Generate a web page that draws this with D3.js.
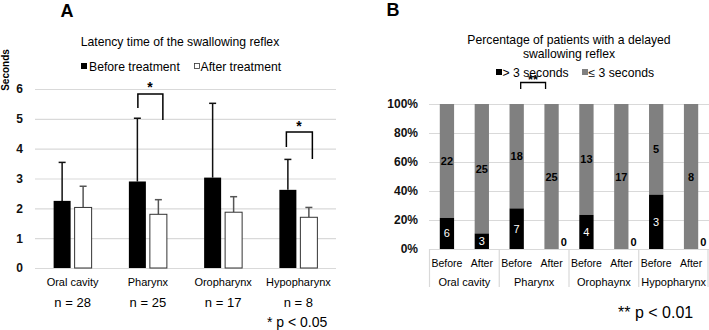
<!DOCTYPE html>
<html>
<head>
<meta charset="utf-8">
<script src="https://cdn.jsdelivr.net/npm/d3@7"></script>
<style>
  body { margin: 0; background: #fff; }
  svg { font-family: "Liberation Sans", Arial, sans-serif; }
</style>
</head>
<body>
<svg id="chart" width="709" height="330"></svg>
<script>
// Panel A data: latency time (seconds)
const sitesA = ['Oral cavity', 'Pharynx', 'Oropharynx', 'Hypopharynx'];
const nLabels = ['n = 28', 'n = 25', 'n = 17', 'n = 8'];
const beforeMean = [2.25, 2.9, 3.03, 2.62];
const beforeErr = [1.29, 2.12, 2.49, 1.02];
const afterMean = [2.03, 1.8, 1.87, 1.7];
const afterErr = [0.71, 0.49, 0.52, 0.33];
const ticksA = [0, 1, 2, 3, 4, 5, 6];

// Panel B data: patient counts
const sitesB = ['Oral cavity', 'Pharynx', 'Orophaynx', 'Hypopharynx'];
const phases = ['Before', 'After'];
const delayed = [6, 3, 7, 0, 4, 0, 3, 0];     // > 3 seconds
const normal = [22, 25, 18, 25, 13, 17, 5, 8]; // <= 3 seconds
const ticksB = [0, 20, 40, 60, 80, 100];

const svg = d3.select('#chart');
const grid = '#d9d9d9';
const fs = '12.2px';

// ---------- Panel A ----------
const gA = svg.append('g');
const xA = d3.scaleBand().domain(sitesA).range([35, 336]);
const inner = d3.scaleBand().domain(['before', 'after'])
  .range([xA.bandwidth() / 2 - 19, xA.bandwidth() / 2 + 19]).paddingInner(0.19);
const yA = d3.scaleLinear().domain([0, 6]).range([268, 89]);

gA.append('text').attr('x', 67).attr('y', 17).attr('text-anchor', 'middle')
  .style('font-size', '18px').style('font-weight', 'bold').text('A');
gA.append('text').attr('x', 180).attr('y', 46).attr('text-anchor', 'middle')
  .style('font-size', fs).text('Latency time of the swallowing reflex');

// legend
gA.append('rect').attr('x', 81).attr('y', 63).attr('width', 6).attr('height', 6).attr('fill', '#000');
gA.append('text').attr('x', 89).attr('y', 70.5).style('font-size', fs).text('Before treatment');
gA.append('rect').attr('x', 194.5).attr('y', 63.5).attr('width', 5).attr('height', 5)
  .attr('fill', '#fff').attr('stroke', '#333').attr('stroke-width', 0.8);
gA.append('text').attr('x', 200.5).attr('y', 70.5).style('font-size', fs).text('After treatment');

// y axis + grid
gA.append('g').attr('transform', 'translate(35,0)')
  .call(d3.axisLeft(yA).tickValues(ticksA).tickSize(-301).tickPadding(12).tickFormat(d3.format('d')))
  .call(g => g.select('.domain').remove())
  .call(g => g.selectAll('.tick line').attr('stroke', grid).attr('stroke-width', 1.2))
  .call(g => g.selectAll('.tick text').attr('fill', '#111')
    .style('font-size', '12px').style('font-weight', 'bold')
    .style('font-family', '"Liberation Sans", Arial, sans-serif'));

gA.append('text').attr('transform', 'translate(9,70) rotate(-90)')
  .attr('text-anchor', 'middle').style('font-size', '10px').style('font-weight', 'bold')
  .text('Seconds');

const groupsA = gA.selectAll('.grpA').data(sitesA).enter().append('g')
  .attr('class', 'grpA').attr('transform', d => `translate(${xA(d)},0)`);

function drawSeries(key, means, errs, fill, errColor) {
  const cx = inner(key) + inner.bandwidth() / 2;
  groupsA.append('line')
    .attr('x1', cx).attr('x2', cx)
    .attr('y1', (d, i) => yA(means[i])).attr('y2', (d, i) => yA(means[i] + errs[i]))
    .attr('stroke', errColor).attr('stroke-width', 1.5);
  groupsA.append('line')
    .attr('x1', cx - 3.5).attr('x2', cx + 3.5)
    .attr('y1', (d, i) => yA(means[i] + errs[i])).attr('y2', (d, i) => yA(means[i] + errs[i]))
    .attr('stroke', errColor).attr('stroke-width', 1.5);
  groupsA.append('rect')
    .attr('x', inner(key)).attr('width', inner.bandwidth())
    .attr('y', (d, i) => yA(means[i])).attr('height', (d, i) => yA(0) - yA(means[i]))
    .attr('fill', fill)
    .attr('stroke', fill === '#fff' ? '#333' : 'none').attr('stroke-width', 1);
}
drawSeries('after', afterMean, afterErr, '#fff', '#555');
drawSeries('before', beforeMean, beforeErr, '#000', '#111');

groupsA.append('text').attr('x', xA.bandwidth() / 2).attr('y', 285.5)
  .attr('text-anchor', 'middle').style('font-size', '11px').text(d => d);
groupsA.append('text').attr('x', xA.bandwidth() / 2).attr('y', 307)
  .attr('text-anchor', 'middle').style('font-size', '13px').text((d, i) => nLabels[i]);

// significance brackets in A
function bracket(g, x1, x2, yTop, yL, yR, label, lx, ly) {
  g.append('path').attr('d', `M${x1},${yL}V${yTop}H${x2}V${yR}`)
    .attr('fill', 'none').attr('stroke', '#000').attr('stroke-width', 1.5);
  g.append('text').attr('x', lx).attr('y', ly).attr('text-anchor', 'middle')
    .style('font-size', '14px').style('font-weight', 'bold').text(label);
}
bracket(gA, xA('Pharynx') + inner('before') + 9, xA('Pharynx') + inner('after') + 13,
  94, 108, 120, '*', 150, 92);
bracket(gA, xA('Hypopharynx') + inner('before') + 7, xA('Hypopharynx') + inner('after') + 12,
  132, 147, 159, '*', 299, 131);

gA.append('text').attr('x', 267).attr('y', 327).style('font-size', '14px').text('* p < 0.05');

// ---------- Panel B ----------
const gB = svg.append('g');
const keysB = d3.cross(sitesB, phases).map(d => d[0] + '|' + d[1]);
const xB = d3.scaleBand().domain(keysB).range([429.5, 708.5]).paddingInner(0.59).paddingOuter(0.295);
const yB = d3.scaleLinear().domain([0, 100]).range([249, 104]);

gB.append('text').attr('x', 393).attr('y', 16).attr('text-anchor', 'middle')
  .style('font-size', '18px').style('font-weight', 'bold').text('B');
gB.append('text').attr('x', 569).attr('y', 44).attr('text-anchor', 'middle')
  .style('font-size', fs).text('Percentage of patients with a delayed');
gB.append('text').attr('x', 569).attr('y', 57.5).attr('text-anchor', 'middle')
  .style('font-size', fs).text('swallowing reflex');

gB.append('rect').attr('x', 496).attr('y', 69).attr('width', 6).attr('height', 6).attr('fill', '#000');
gB.append('text').attr('x', 502.5).attr('y', 76.5).style('font-size', fs).text('> 3 seconds');
gB.append('rect').attr('x', 582).attr('y', 69).attr('width', 6).attr('height', 6).attr('fill', '#808080');
gB.append('text').attr('x', 588.5).attr('y', 76.5).style('font-size', fs).text('≤ 3 seconds');

gB.append('g').attr('transform', 'translate(429,0)')
  .call(d3.axisLeft(yB).tickValues(ticksB).tickSize(-280).tickPadding(11).tickFormat(d => d + '%'))
  .call(g => g.select('.domain').remove())
  .call(g => g.selectAll('.tick line').attr('stroke', grid).attr('stroke-width', 1.2))
  .call(g => g.selectAll('.tick text').attr('fill', '#111')
    .style('font-size', '12px').style('font-weight', 'bold')
    .style('font-family', '"Liberation Sans", Arial, sans-serif'));

const rows = keysB.map((k, i) => {
  const total = delayed[i] + normal[i];
  return { key: k, phase: k.split('|')[1], d: delayed[i], n: normal[i],
    pd: delayed[i] / total * 100 };
});

const barsB = gB.selectAll('.barB').data(rows).enter().append('g').attr('class', 'barB')
  .attr('transform', d => `translate(${xB(d.key)},0)`);
barsB.append('rect').attr('width', xB.bandwidth())
  .attr('y', yB(100)).attr('height', d => yB(d.pd) - yB(100)).attr('fill', '#808080');
barsB.append('rect').attr('width', xB.bandwidth())
  .attr('y', d => yB(d.pd)).attr('height', d => yB(0) - yB(d.pd)).attr('fill', '#000');

// segment labels
barsB.append('text').attr('x', xB.bandwidth() / 2)
  .attr('y', d => yB((d.pd + 100) / 2) + 4).attr('text-anchor', 'middle')
  .style('font-size', '11px').style('font-weight', 'bold').text(d => d.n);
barsB.append('text')
  .attr('x', d => d.d > 0 ? xB.bandwidth() / 2 : xB.bandwidth() + 2)
  .attr('y', d => d.d > 0 ? yB(d.pd / 2) + 4 : yB(0) - 3)
  .attr('text-anchor', d => d.d > 0 ? 'middle' : 'start')
  .attr('fill', d => d.d > 0 ? '#fff' : '#000')
  .style('font-size', '11px').style('font-weight', d => d.d > 0 ? 'normal' : 'bold')
  .text(d => d.d);

// multi-level category axis
barsB.append('text').attr('x', xB.bandwidth() / 2).attr('y', 266.5).attr('text-anchor', 'middle')
  .style('font-size', '10.5px').text(d => d.phase);
const groupStep = xB.step() * 2;
sitesB.forEach((s, i) => {
  const x0 = 429.5 + i * groupStep;
  gB.append('line').attr('x1', x0).attr('x2', x0).attr('y1', 249).attr('y2', 287)
    .attr('stroke', grid).attr('stroke-width', 1.2);
  gB.append('text').attr('x', x0 + groupStep / 2).attr('y', 286).attr('text-anchor', 'middle')
    .style('font-size', '11px').text(s);
});
gB.append('line').attr('x1', 708).attr('x2', 708).attr('y1', 249).attr('y2', 287)
  .attr('stroke', grid).attr('stroke-width', 1.2);

// bracket in B
const bx1 = xB('Pharynx|Before') + xB.bandwidth() / 2 + 4;
const bx2 = xB('Pharynx|After') + xB.bandwidth() / 2 - 6;
gB.append('path').attr('d', `M${bx1},89V82.5H${bx2}V89`)
  .attr('fill', 'none').attr('stroke', '#000').attr('stroke-width', 1.3);
gB.append('text').attr('x', 533).attr('y', 84).attr('text-anchor', 'middle')
  .style('font-size', '13px').style('font-weight', 'bold').text('**');

gB.append('text').attr('x', 618).attr('y', 318).style('font-size', '16px').text('** p < 0.01');
</script>
</body>
</html>
